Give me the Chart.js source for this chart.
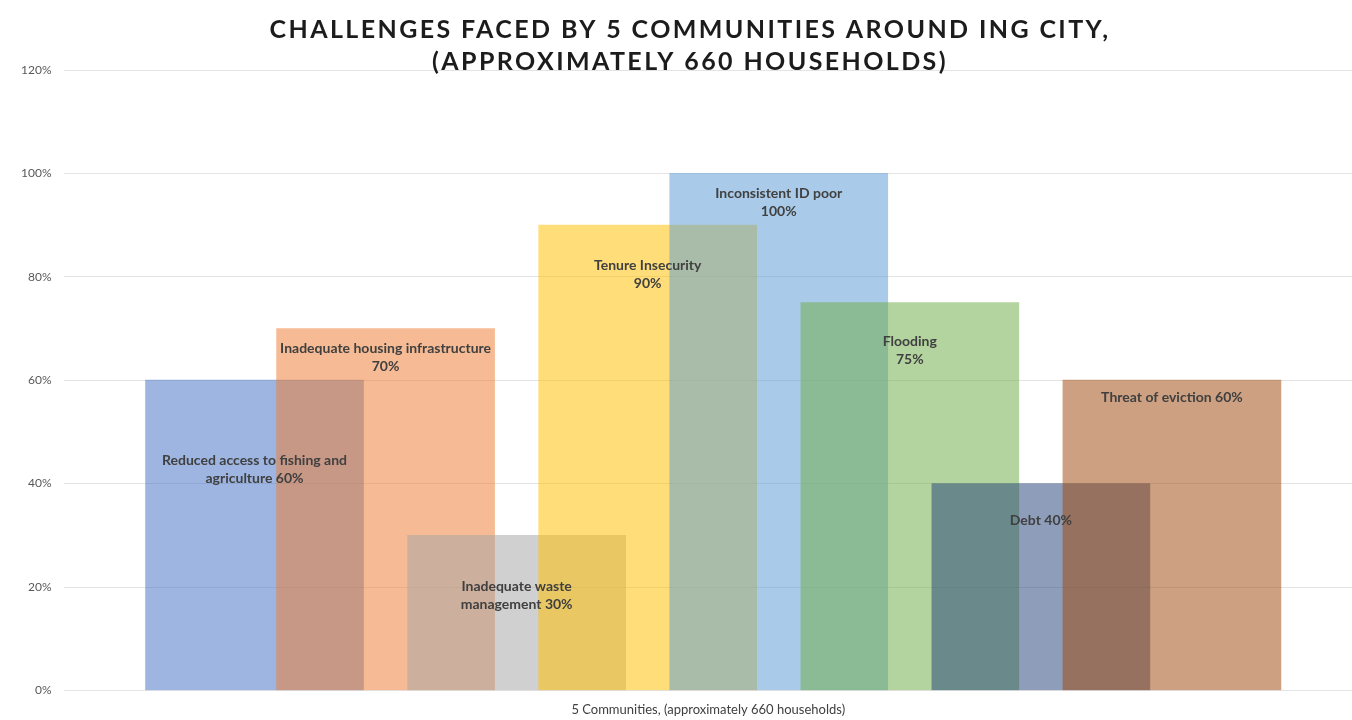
<!DOCTYPE html>
<html>
<head>
<meta charset="utf-8">
<title>Challenges faced by 5 communities</title>
<script src="https://cdn.jsdelivr.net/npm/chart.js@4"></script>
<style>
    html, body { margin: 0; padding: 0; background: #fff; }
    #wrap { width: 1352px; height: 720px; }
</style>
</head>
<body>
<div id="wrap"><canvas id="challengesChart"></canvas></div>
<script>
// Single category, one bar per challenge
const category = '5 Communities, (approximately 660 households)';
const challenges = [
    'Reduced access to fishing and\nagriculture',
    'Inadequate housing infrastructure\n',
    'Inadequate waste\nmanagement',
    'Tenure Insecurity\n',
    'Inconsistent ID poor\n',
    'Flooding\n',
    'Debt',
    'Threat of eviction'
];
const shares = [60, 70, 30, 90, 100, 75, 40, 60];
// where each label block sits, in axis percent
const labelAt = [42.8, 64.4, 18.4, 80.5, 94.3, 65.8, 32.9, 56.7];
const yTicks = [0, 20, 40, 60, 80, 100, 120];
const titleLines = ['CHALLENGES FACED BY 5 COMMUNITIES AROUND ING CITY,', '(APPROXIMATELY 660 HOUSEHOLDS)'];
const palette = ['#4472C4', '#ED7D31', '#A5A5A5', '#FFC000', '#5B9BD5', '#70AD47', '#264478', '#9E480E'];

function fade(hex, a) {
    const n = parseInt(hex.slice(1), 16);
    return `rgba(${(n >> 16) & 255}, ${(n >> 8) & 255}, ${n & 255}, ${a})`;
}

function labelLines(i) {
    const name = challenges[i];
    const sep = name.endsWith('\n') ? '' : ' ';
    return (name + sep + shares[i] + '%').split('\n');
}

// Writes the name + share inside every bar
const barLabels = {
    id: 'barLabels',
    afterDatasetsDraw(chart) {
        const { ctx } = chart;
        const yScale = chart.scales.y;
        ctx.save();
        ctx.font = 'bold 14px Lato';
        ctx.fillStyle = '#404040';
        ctx.textAlign = 'center';
        ctx.textBaseline = 'middle';
        chart.data.datasets.forEach((ds, i) => {
            const bar = chart.getDatasetMeta(i).data[0];
            const lines = labelLines(i);
            const mid = yScale.getPixelForValue(labelAt[i]);
            const top = mid - (lines.length - 1) * 9;
            lines.forEach((line, k) => ctx.fillText(line, bar.x, top + k * 18));
        });
        ctx.restore();
    }
};

// Spaced-out heading; it sits partly over the plot area
const heading = {
    id: 'heading',
    afterDraw(chart) {
        const { ctx } = chart;
        ctx.save();
        ctx.font = 'bold 25px Lato';
        ctx.letterSpacing = '2.4px';
        ctx.fillStyle = '#1c1c1c';
        ctx.textAlign = 'center';
        ctx.textBaseline = 'middle';
        titleLines.forEach((line, k) => ctx.fillText(line, chart.width / 2 + 14, 30 + k * 32));
        ctx.restore();
    }
};

const datasets = challenges.map((name, i) => ({
    label: name.replace('\n', ' ').trim(),
    data: [{ x: i + 1, y: shares[i] }],
    backgroundColor: fade(palette[i], 0.52),
    borderWidth: 0,
    grouped: false,
    barThickness: 218,
    order: challenges.length - i // later bars paint over earlier ones
}));

new Chart(document.getElementById('challengesChart'), {
    type: 'bar',
    data: { datasets },
    plugins: [barLabels, heading],
    options: {
        responsive: true,
        maintainAspectRatio: false,
        animation: false,
        layout: { padding: { left: 8, right: 0, top: 70, bottom: 0 } },
        plugins: {
            legend: { display: false },
            tooltip: { enabled: false },
            title: { display: false }
        },
        scales: {
            x: {
                type: 'linear',
                offset: false,
                min: -0.45,
                max: 9.374,
                grid: { display: false, drawTicks: false },
                border: { display: false },
                ticks: { display: false },
                title: {
                    display: true,
                    text: category,
                    color: '#404040',
                    font: { family: 'Lato', size: 13 },
                    padding: { top: 12, bottom: 2 }
                }
            },
            y: {
                min: 0,
                max: 120,
                afterBuildTicks: axis => { axis.ticks = yTicks.map(v => ({ value: v })); },
                grid: { color: '#e4e4e4', lineWidth: 1, drawTicks: false },
                border: { display: false },
                ticks: {
                    padding: 13,
                    color: '#595959',
                    font: { family: 'Lato', size: 12 },
                    callback: v => v + '%'
                }
            }
        }
    }
});
</script>
</body>
</html>
